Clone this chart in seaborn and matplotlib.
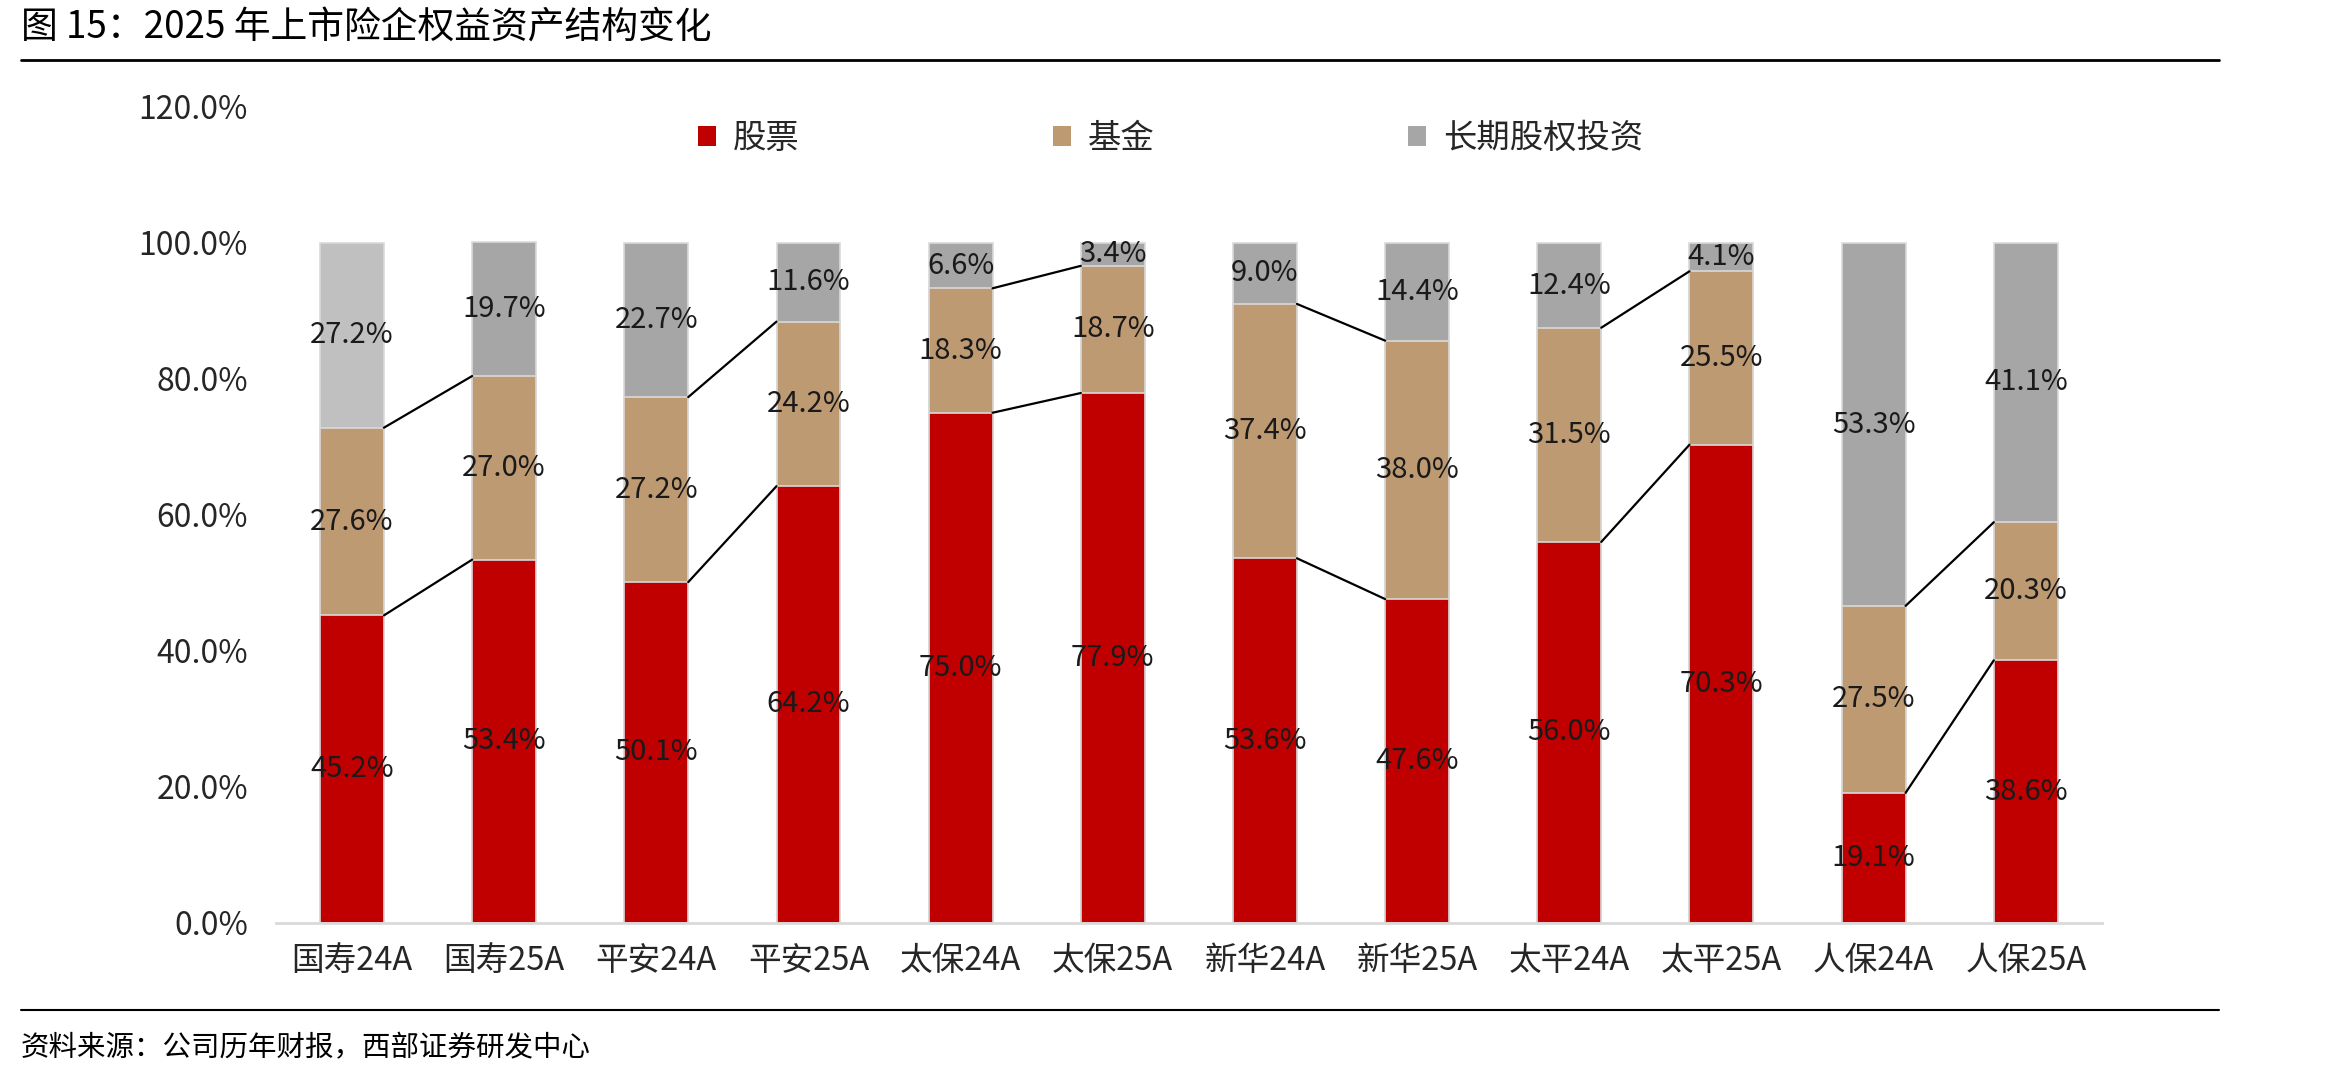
import matplotlib
matplotlib.use("Agg")
import matplotlib.pyplot as plt
from matplotlib.lines import Line2D
from matplotlib.patches import Patch
from matplotlib.ticker import FuncFormatter
import seaborn as sns
import pandas as pd

# 数据
companies = ['国寿24A', '国寿25A', '平安24A', '平安25A', '太保24A', '太保25A',
             '新华24A', '新华25A', '太平24A', '太平25A', '人保24A', '人保25A']
stock = [45.2, 53.4, 50.1, 64.2, 75.0, 77.9, 53.6, 47.6, 56.0, 70.3, 19.1, 38.6]
fund = [27.6, 27.0, 27.2, 24.2, 18.3, 18.7, 37.4, 38.0, 31.5, 25.5, 27.5, 20.3]
lt_equity = [27.2, 19.7, 22.7, 11.6, 6.6, 3.4, 9.0, 14.4, 12.4, 4.1, 53.3, 41.1]
series_names = ['股票', '基金', '长期股权投资']

c_red = '#C00000'
c_tan = '#BE9A73'
c_grey = '#A6A6A6'
c_grey_light = '#C0C0C0'

sns.set_theme(style='white')
plt.rcParams['font.family'] = ['Noto Sans CJK SC', 'DejaVu Sans']

df = pd.DataFrame({'公司': companies, '股票': stock, '基金': fund, '长期股权投资': lt_equity})
df['s1'] = df['股票']
df['s2'] = df['股票'] + df['基金']
df['s3'] = df['s2'] + df['长期股权投资']

fig = plt.figure(figsize=(23.38, 10.78), dpi=100)
ax = fig.add_axes([0.118, 0.144, 0.781, 0.757])

bw = 0.42
edge = dict(edgecolor='#D9D9D9', linewidth=1.2)
grey_pal = [c_grey_light] + [c_grey] * (len(companies) - 1)
# 叠加累计值画出堆积柱
sns.barplot(data=df, x='公司', y='s3', hue='公司', palette=grey_pal, legend=False,
            width=bw, saturation=1, ax=ax, **edge)
sns.barplot(data=df, x='公司', y='s2', color=c_tan, width=bw, saturation=1, ax=ax, **edge)
sns.barplot(data=df, x='公司', y='s1', color=c_red, width=bw, saturation=1, ax=ax, **edge)

# 数据标签
lab_kw = dict(ha='center', va='center', fontsize=21, color='#1a1a1a')
for i in range(len(companies)):
    ax.text(i, stock[i] / 2, f'{stock[i]:.1f}%', **lab_kw)
    ax.text(i, df['s1'][i] + fund[i] / 2, f'{fund[i]:.1f}%', **lab_kw)
    ax.text(i, df['s2'][i] + lt_equity[i] / 2, f'{lt_equity[i]:.1f}%', **lab_kw)

# 系列线（24A -> 25A）
for i in range(0, len(companies), 2):
    for col in ['s1', 's2']:
        ax.plot([i + bw / 2, i + 1 - bw / 2], [df[col][i], df[col][i + 1]],
                color='black', lw=1.6, zorder=3)

ax.set_ylim(0, 120)
ax.set_xlim(-0.5, len(companies) - 0.5)
ax.set_yticks(range(0, 121, 20))
ax.yaxis.set_major_formatter(FuncFormatter(lambda v, p: f'{v:.1f}%'))
ax.tick_params(axis='y', labelsize=23, length=0, pad=20)
ax.tick_params(axis='x', labelsize=23.5, length=0, pad=16)
ax.set_xlabel('')
ax.set_ylabel('')
for s in ['left', 'right', 'top']:
    ax.spines[s].set_visible(False)
ax.spines['bottom'].set_color('#D9D9D9')
ax.spines['bottom'].set_linewidth(2)

handles = [Patch(facecolor=c, edgecolor='none') for c in [c_red, c_tan, c_grey]]
ax.legend(handles, series_names, loc='center', bbox_to_anchor=(0.49, 0.961), ncol=3,
          frameon=False, fontsize=24, handlelength=0.55, handleheight=0.55,
          handletextpad=0.5, columnspacing=7.6)

# 标题、分隔线、来源
fig.text(0.009, 0.975, '图 15：2025 年上市险企权益资产结构变化', fontsize=26.5,
         ha='left', va='center', color='black')
fig.add_artist(Line2D([0.009, 0.949], [0.944, 0.944], color='black', lw=2))
fig.add_artist(Line2D([0.009, 0.949], [0.063, 0.063], color='black', lw=1.5))
fig.text(0.009, 0.028, '资料来源：公司历年财报，西部证券研发中心', fontsize=20.5,
         ha='left', va='center', color='black')

fig.savefig('out.png', dpi=100, facecolor='white')
